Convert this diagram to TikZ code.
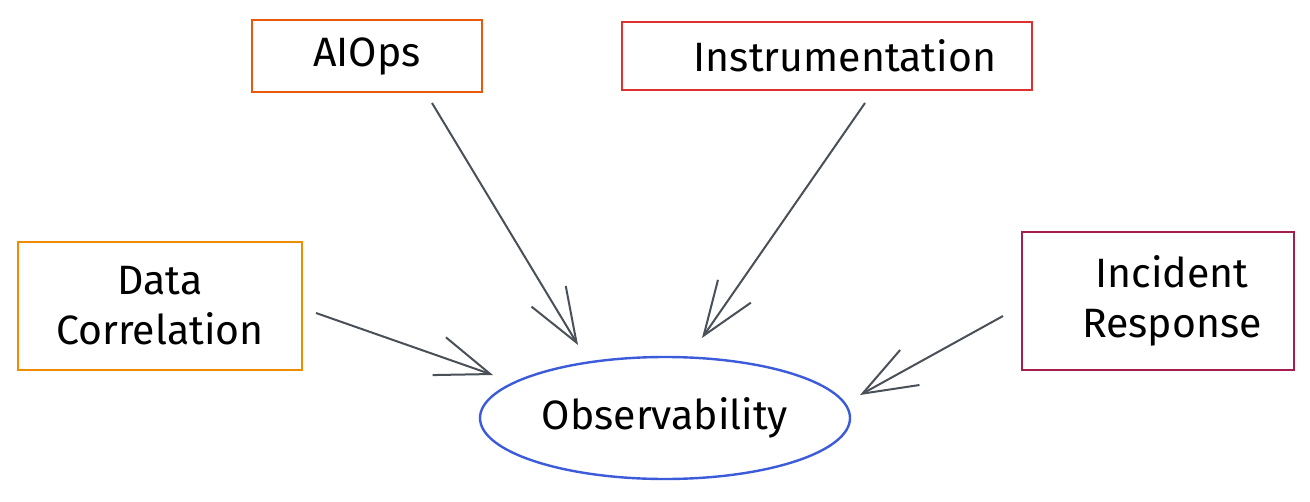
\documentclass[tikz,border=0pt]{standalone}
\usepackage{fontspec}
\setmainfont{Fira Sans}
\usetikzlibrary{shapes.geometric,arrows.meta,calc}
\definecolor{cAio}{HTML}{E8590C}
\definecolor{cIns}{HTML}{E03131}
\definecolor{cDat}{HTML}{F08C00}
\definecolor{cInc}{HTML}{A61E4D}
\definecolor{cObs}{HTML}{3B5BDB}
\definecolor{cArr}{HTML}{495057}
\tikzset{
  box/.style={draw, line width=1.1pt, rectangle, inner sep=0pt, align=center,
    font=\fontsize{20.5}{25}\selectfont},
  conn/.style={draw=cArr, line width=1pt,
    -{Straight Barb[length=27pt,width=20pt,line width=1pt]}},
}
\begin{document}
\begin{tikzpicture}[x=0.5pt,y=-0.5pt]
\useasboundingbox (0,0) rectangle (1310,502);
\fill[white] (0,0) rectangle (1310,502);
\node[box, draw=cAio, minimum width=115pt, minimum height=36pt] (aiops) at (367,56) {AIOps};
\node[box, draw=cIns, minimum width=205pt, minimum height=34pt] (instr) at (827,56) {\hspace*{18pt}Instrumentation};
\node[box, draw=cDat, minimum width=142pt, minimum height=64pt] (data) at (160,306) {Data\\Correlation};
\node[box, draw=cInc, minimum width=136pt, minimum height=69pt] (inc) at (1158,301) {\hspace*{14pt}Incident\\\hspace*{14pt}Response};
\node[draw=cObs, line width=1.2pt, ellipse, minimum width=185pt, minimum height=61pt, inner sep=0pt,
  font=\fontsize{20.5}{25}\selectfont] (obs) at (665,418) {Observability};
\draw[conn] ($(aiops)+(65,47)$) -- ($(obs)+(-87,-73)$);
\draw[conn] ($(instr)+(38,47)$) -- ($(obs)+(37,-80)$);
\draw[conn] ($(data)+(156,7)$) -- ($(obs)+(-172,-43)$);
\draw[conn] ($(inc)+(-155,15)$) -- ($(obs)+(195,-23)$);
\end{tikzpicture}
\end{document}
